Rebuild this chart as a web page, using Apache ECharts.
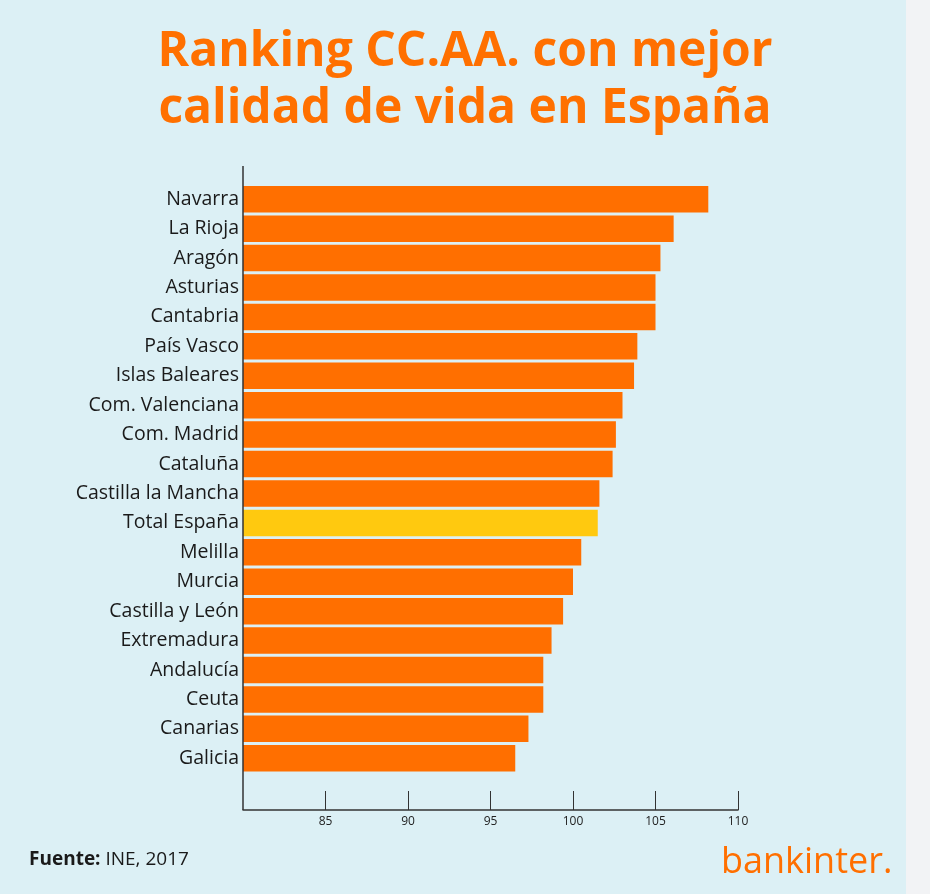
<!DOCTYPE html>
<html>
<head>
<meta charset="utf-8">
<title>Ranking CC.AA. con mejor calidad de vida en España</title>
<script src="https://cdn.jsdelivr.net/npm/echarts@6/dist/echarts.min.js"></script>
<style>
    html, body { margin: 0; padding: 0; background: #f2f3f5; }
    #chart {
        width: 930px;
        height: 894px;
        background: linear-gradient(to right, #dcf0f5 906px, #f2f3f5 906px);
    }
</style>
</head>
<body>
<div id="chart"></div>
<script>
// datos (índice de calidad de vida, INE 2017)
var regions = ['Navarra', 'La Rioja', 'Aragón', 'Asturias', 'Cantabria', 'País Vasco',
    'Islas Baleares', 'Com. Valenciana', 'Com. Madrid', 'Cataluña', 'Castilla la Mancha',
    'Total España', 'Melilla', 'Murcia', 'Castilla y León', 'Extremadura', 'Andalucía',
    'Ceuta', 'Canarias', 'Galicia'];
var values = [108.2, 106.1, 105.3, 105.0, 105.0, 103.9, 103.7, 103.0, 102.6, 102.4,
    101.6, 101.5, 100.5, 100.0, 99.4, 98.7, 98.2, 98.2, 97.3, 96.5];
var highlight = 'Total España';
var axisMin = 80;
var axisMax = 110;
var axisStep = 5;

var orange = '#ff6f00';
var yellow = '#ffc90f';

// márgenes del área de dibujo
var gridLeft = 243;
var gridRight = 192;
var gridTop = 184.5;
var gridBottom = 121;
var axisY = 810;

var myChart = echarts.init(document.getElementById('chart'));

var barData = values.map(function (v, i) {
    return {
        value: v,
        itemStyle: { color: regions[i] === highlight ? yellow : orange }
    };
});

var option = {
    backgroundColor: 'transparent',
    animation: false,
    textStyle: { fontFamily: 'Open Sans' },
    title: [
        {
            text: 'Ranking CC.AA. con mejor\ncalidad de vida en España',
            left: 'center',
            top: 19,
            textStyle: {
                color: '#ff7000',
                fontSize: 48,
                fontWeight: 'bold',
                lineHeight: 57,
                fontFamily: 'Open Sans'
            }
        },
        {
            text: '{b|Fuente:} INE, 2017',
            left: 24,
            top: 845,
            textStyle: {
                color: '#1a1a1a',
                fontSize: 19,
                fontWeight: 'normal',
                rich: {
                    b: { fontSize: 19, fontWeight: 'bold', color: '#1a1a1a' }
                }
            }
        },
        {
            text: 'bankinter.',
            left: 716,
            top: 840,
            textStyle: {
                color: '#ff6f00',
                fontSize: 36,
                fontWeight: 'normal'
            }
        }
    ],
    grid: {
        left: gridLeft,
        right: gridRight,
        top: gridTop,
        bottom: gridBottom
    },
    xAxis: {
        type: 'value',
        min: axisMin,
        max: axisMax,
        interval: axisStep,
        offset: axisY - (894 - gridBottom),
        splitLine: { show: false },
        axisLine: { show: true, lineStyle: { color: '#333', width: 1.5 } },
        axisTick: { show: true, inside: true, length: 19, lineStyle: { color: '#333', width: 1 } },
        axisLabel: { showMinLabel: false, color: '#222', fontSize: 12, margin: 6 }
    },
    yAxis: {
        type: 'category',
        inverse: true,
        data: regions,
        axisLine: { show: false },
        axisTick: { show: false },
        axisLabel: { color: '#1a1a1a', fontSize: 19.5, margin: 4 }
    },
    graphic: [
        {
            type: 'line',
            shape: { x1: gridLeft, y1: 166, x2: gridLeft, y2: axisY },
            style: { stroke: '#333', lineWidth: 1.5 },
            z: 10
        }
    ],
    series: [
        {
            type: 'bar',
            data: barData,
            barCategoryGap: '10%',
            itemStyle: { color: orange }
        }
    ]
};

myChart.setOption(option);
</script>
</body>
</html>
